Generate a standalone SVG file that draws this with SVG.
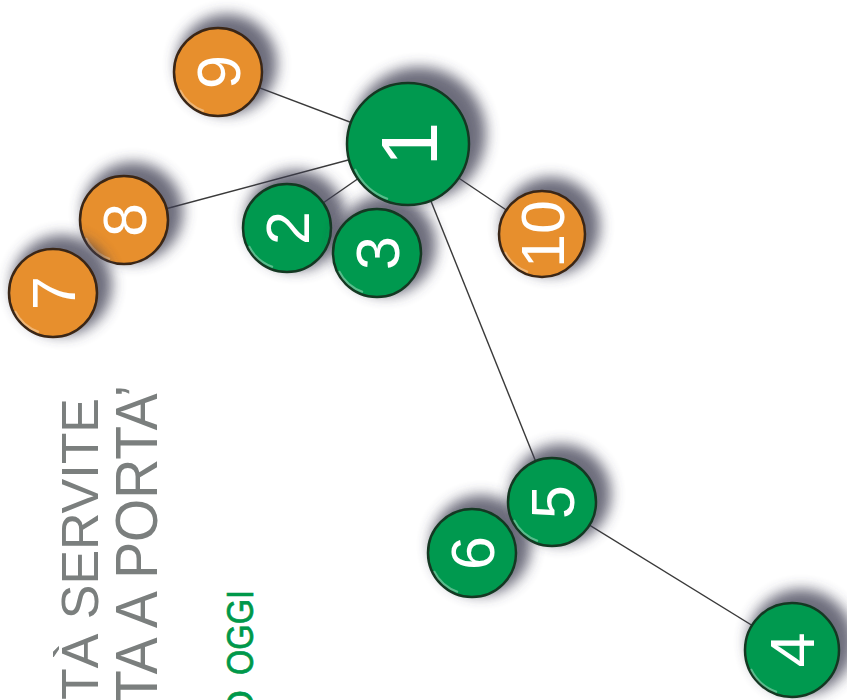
<svg xmlns="http://www.w3.org/2000/svg" width="847" height="700" viewBox="0 0 847 700">
<defs>
<filter id="sh" x="-50%" y="-50%" width="200%" height="200%"><feGaussianBlur stdDeviation="7"/></filter>
<style>
.edge{stroke:#3a3a3a;stroke-width:1.4;fill:none}
.shadow{fill:#3a3a50;opacity:0.75;filter:url(#sh)}
.g{fill:#00994f;stroke:#143822;stroke-width:2.5}
.o{fill:#e78f2d;stroke:#3a2616;stroke-width:2.5}
.hl{fill:none;stroke:#ffffff;stroke-opacity:0.35;stroke-width:2}
.num{fill:#ffffff;font-family:"Liberation Sans",Arial,sans-serif;text-anchor:middle}
.title{fill:#7b7f7e;font-family:"Liberation Sans",Arial,sans-serif}
.sub{fill:#00984a;stroke:#00984a;stroke-width:0.7;font-family:"Liberation Sans",Arial,sans-serif;font-size:37px}
</style>
</defs>
<rect width="847" height="700" fill="#ffffff"/>
<g id="texts">
<text class="title" font-size="52" transform="translate(98,700) rotate(-90)" textLength="302" lengthAdjust="spacingAndGlyphs">TÀ SERVITE</text>
<text class="title" font-size="60" transform="translate(157,704) rotate(-90)" textLength="319" lengthAdjust="spacingAndGlyphs">TA A PORTA’</text>
<text class="sub" transform="translate(253,719) rotate(-90)" textLength="29" lengthAdjust="spacingAndGlyphs">O</text>
<text class="sub" transform="translate(253,675) rotate(-90)" textLength="85" lengthAdjust="spacingAndGlyphs">OGGI</text>
</g>
<g id="connectors">
<line class="edge" x1="218" y1="72" x2="408" y2="144"/>
<line class="edge" x1="124" y1="220" x2="408" y2="144"/>
<line class="edge" x1="287" y1="228" x2="408" y2="144"/>
<line class="edge" x1="542" y1="234" x2="408" y2="144"/>
<line class="edge" x1="552" y1="502" x2="408" y2="144"/>
<line class="edge" x1="792" y1="650" x2="552" y2="502"/>
</g>
<g id="node9" transform="translate(218,72)"><circle class="shadow" cx="9" cy="-8" r="50"/><circle class="o" r="44"/><path class="hl" d="M-38,18 A42,42 0 0 0 -14,39"/><text class="num" transform="rotate(-90)" y="22" font-size="61">9</text></g>
<g id="node8" transform="translate(124,220)"><circle class="shadow" cx="9" cy="-8" r="50"/><circle class="o" r="44"/><path class="hl" d="M-38,18 A42,42 0 0 0 -14,39"/><text class="num" transform="rotate(-90)" y="22" font-size="61">8</text></g>
<g id="node7" transform="translate(53,293)"><circle class="shadow" cx="9" cy="-8" r="50"/><circle class="o" r="44"/><path class="hl" d="M-38,18 A42,42 0 0 0 -14,39"/><text class="num" transform="rotate(-90)" y="22" font-size="61">7</text></g>
<g id="node10" transform="translate(542,234)"><circle class="shadow" cx="9" cy="-8" r="49"/><circle class="o" r="43"/><path class="hl" d="M-37,18 A41,41 0 0 0 -14,38"/><text class="num" transform="rotate(-90)" y="22" font-size="61">10</text></g>
<g id="node2" transform="translate(287,228)"><circle class="shadow" cx="9" cy="-8" r="50"/><circle class="g" r="44"/><path class="hl" d="M-38,18 A42,42 0 0 0 -14,39"/><text class="num" transform="rotate(-90)" y="22" font-size="61">2</text></g>
<g id="node3" transform="translate(377,253)"><circle class="shadow" cx="9" cy="-8" r="50"/><circle class="g" r="44"/><path class="hl" d="M-38,18 A42,42 0 0 0 -14,39"/><text class="num" transform="rotate(-90)" y="22" font-size="61">3</text></g>
<g id="node1" transform="translate(408,144)"><circle class="shadow" cx="11" cy="-10" r="67"/><circle class="g" r="61"/><path class="hl" d="M-53,25 A58,58 0 0 0 -20,55"/><text class="num" transform="rotate(-90)" y="29" font-size="80">1</text></g>
<g id="node6" transform="translate(472,553)"><circle class="shadow" cx="9" cy="-8" r="50"/><circle class="g" r="44"/><path class="hl" d="M-38,18 A42,42 0 0 0 -14,39"/><text class="num" transform="rotate(-90)" y="22" font-size="61">6</text></g>
<g id="node5" transform="translate(552,502)"><circle class="shadow" cx="9" cy="-8" r="50"/><circle class="g" r="44"/><path class="hl" d="M-38,18 A42,42 0 0 0 -14,39"/><text class="num" transform="rotate(-90)" y="22" font-size="61">5</text></g>
<g id="node4" transform="translate(792,650)"><circle class="shadow" cx="9" cy="-8" r="53"/><circle class="g" r="47"/><path class="hl" d="M-41,19 A45,45 0 0 0 -15,42"/><text class="num" transform="rotate(-90)" y="22" font-size="63">4</text></g>
</svg>
